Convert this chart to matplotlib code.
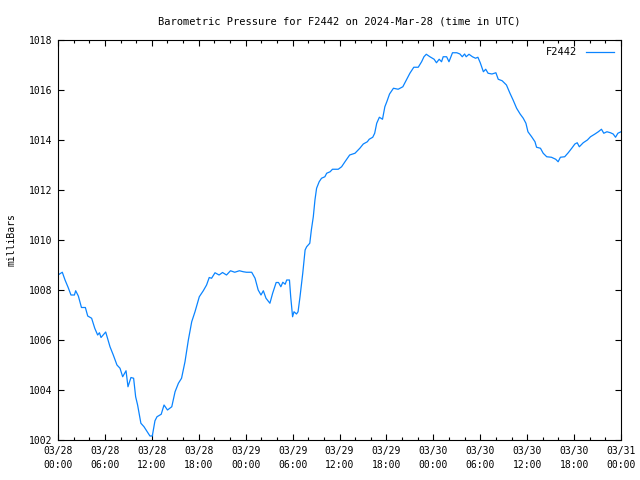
import numpy as np
import matplotlib
matplotlib.use("Agg")
import matplotlib.pyplot as plt
from matplotlib.ticker import MultipleLocator

# hours since 2024-03-28 00:00 UTC, pressure in mb
hours = [0.0, 0.55, 0.9, 1.3, 1.66, 2.1, 2.26, 2.6, 3.0, 3.5, 3.8, 4.3, 4.7, 5.07, 5.3,
         5.5, 6.1, 6.65, 7.07, 7.54, 7.93, 8.27, 8.7, 8.95, 9.33, 9.67, 9.93, 10.18,
         10.6, 11.0, 11.47, 11.76, 12.06, 12.4, 12.66, 13.2, 13.56, 14.0, 14.55, 14.97,
         15.4, 15.8, 16.24, 16.67, 17.1, 17.52, 18.07, 18.58, 19.0, 19.34, 19.64, 20.08,
         20.6, 21.04, 21.55, 22.06, 22.6, 23.2, 23.7, 24.1, 24.77, 25.2, 25.6, 25.96,
         26.26, 26.6, 27.1, 27.45, 27.9, 28.2, 28.5, 28.75, 29.05, 29.25, 29.6, 29.76,
         30.0, 30.18, 30.5, 30.7, 30.95, 31.3, 31.6, 31.8, 32.2, 32.4, 32.65, 32.86,
         33.07, 33.4, 33.7, 34.13, 34.36, 34.8, 35.1, 35.84, 36.27, 36.7, 37.3, 37.98,
         38.6, 39.04, 39.56, 39.8, 40.25, 40.5, 40.76, 41.1, 41.5, 41.8, 42.05, 42.4,
         42.9, 43.5, 44.1, 44.5, 45.0, 45.5, 46.07, 46.5, 46.8, 47.1, 47.56, 48.1, 48.4,
         48.75, 49.05, 49.26, 49.7, 50.0, 50.45, 51.0, 51.4, 51.7, 52.0, 52.2, 52.56,
         53.0, 53.4, 53.7, 54.0, 54.4, 54.7, 55.0, 55.5, 56.0, 56.3, 56.8, 57.35, 57.8,
         58.2, 58.65, 59.1, 59.5, 59.84, 60.1, 60.57, 61.0, 61.2, 61.7, 62.05, 62.5,
         63.1, 63.65, 63.96, 64.25, 64.8, 65.25, 65.7, 66.1, 66.4, 66.67, 67.17, 67.7,
         68.1, 68.67, 69.1, 69.5, 69.8, 70.2, 70.65, 71.0, 71.3, 71.6, 72.0]
pressure = [1008.6, 1008.71, 1008.4, 1008.1, 1007.8, 1007.8, 1007.97, 1007.76, 1007.3,
            1007.3, 1006.96, 1006.87, 1006.47, 1006.2, 1006.29, 1006.1, 1006.32, 1005.73,
            1005.4, 1005.0, 1004.87, 1004.53, 1004.77, 1004.13, 1004.5, 1004.47, 1003.73,
            1003.4, 1002.67, 1002.53, 1002.3, 1002.16, 1002.16, 1002.77, 1002.93, 1003.03,
            1003.4, 1003.2, 1003.33, 1003.93, 1004.27, 1004.47, 1005.13, 1006.0, 1006.73,
            1007.13, 1007.73, 1007.97, 1008.2, 1008.5, 1008.47, 1008.69, 1008.6, 1008.7,
            1008.6, 1008.77, 1008.71, 1008.77, 1008.73, 1008.71, 1008.71, 1008.47, 1008.0,
            1007.8, 1007.97, 1007.67, 1007.47, 1007.87, 1008.3, 1008.3, 1008.13, 1008.31,
            1008.23, 1008.4, 1008.4, 1007.73, 1006.93, 1007.13, 1007.04, 1007.13, 1007.73,
            1008.67, 1009.6, 1009.73, 1009.87, 1010.4, 1010.93, 1011.6, 1012.07, 1012.33,
            1012.47, 1012.53, 1012.67, 1012.73, 1012.83, 1012.83, 1012.93, 1013.13, 1013.4,
            1013.47, 1013.67, 1013.84, 1013.93, 1014.03, 1014.11, 1014.27, 1014.67, 1014.91,
            1014.83, 1015.33, 1015.53, 1015.84, 1016.07, 1016.03, 1016.13, 1016.37, 1016.67,
            1016.91, 1016.91, 1017.13, 1017.33, 1017.43, 1017.33, 1017.23, 1017.09, 1017.23,
            1017.13, 1017.33, 1017.33, 1017.13, 1017.49, 1017.49, 1017.44, 1017.33, 1017.44,
            1017.33, 1017.43, 1017.33, 1017.27, 1017.31, 1017.09, 1016.73, 1016.83, 1016.67,
            1016.64, 1016.69, 1016.43, 1016.37, 1016.2, 1015.87, 1015.6, 1015.27, 1015.04,
            1014.87, 1014.67, 1014.33, 1014.13, 1013.93, 1013.71, 1013.67, 1013.47, 1013.33,
            1013.31, 1013.23, 1013.13, 1013.31, 1013.33, 1013.49, 1013.67, 1013.84, 1013.89,
            1013.73, 1013.89, 1014.0, 1014.13, 1014.24, 1014.33, 1014.43, 1014.27, 1014.33,
            1014.29, 1014.24, 1014.11, 1014.27, 1014.33]

tick_hours = [0, 6, 12, 18, 24, 30, 36, 42, 48, 54, 60, 66, 72]
tick_labels = ["03/28\n00:00", "03/28\n06:00", "03/28\n12:00", "03/28\n18:00",
               "03/29\n00:00", "03/29\n06:00", "03/29\n12:00", "03/29\n18:00",
               "03/30\n00:00", "03/30\n06:00", "03/30\n12:00", "03/30\n18:00",
               "03/31\n00:00"]

plt.rcParams['font.family'] = ['DejaVu Sans Mono']
fs = 7

fig = plt.figure(figsize=(6.4, 4.8), dpi=100)
ax = fig.add_axes([58/640, 40/480, 563/640, 400/480])
ax.plot(hours, pressure, color='#0a84ff', lw=0.9, label='F2442')

ax.set_xlim(0, 72)
ax.set_ylim(1002, 1018)
ax.set_xticks(tick_hours)
ax.set_xticklabels(tick_labels, fontsize=fs, linespacing=1.5)
ax.xaxis.set_minor_locator(MultipleLocator(2))
ax.yaxis.set_major_locator(MultipleLocator(2))
ax.tick_params(axis='both', which='major', direction='in', length=4, width=0.8,
               top=True, right=True, labelsize=fs, pad=4)
ax.tick_params(axis='x', which='minor', direction='in', length=2, width=0.8, top=True)
for s in ax.spines.values():
    s.set_linewidth(0.8)

ax.set_ylabel("milliBars", fontsize=fs, labelpad=9)
ax.set_title("Barometric Pressure for F2442 on 2024-Mar-28 (time in UTC)", fontsize=fs + 0.5, pad=11)
ax.legend(loc='upper right', frameon=False, fontsize=fs + 0.5, markerfirst=False,
          handlelength=2.7, borderaxespad=0.3)

fig.savefig("out.png", dpi=100)
